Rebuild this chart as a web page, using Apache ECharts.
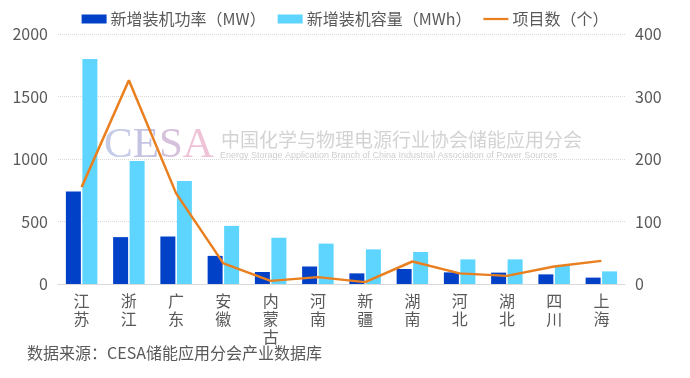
<!DOCTYPE html>
<html>
<head>
<meta charset="utf-8">
<script src="https://cdn.jsdelivr.net/npm/echarts@6/dist/echarts.min.js"></script>
<style>
html,body{margin:0;padding:0;background:#fff;}
#c{width:690px;height:378px;}
</style>
</head>
<body>
<div id="c"></div>
<script>
var categories = ['江苏','浙江','广东','安徽','内蒙古','河南','新疆','湖南','河北','湖北','四川','上海'];
var powerMW = [740, 375, 380, 225, 96, 140, 85, 120, 93, 91, 77, 51];
var capacityMWh = [1800, 985, 825, 465, 370, 323, 277, 256, 197, 197, 150, 101];
var projectCount = [155, 326, 145, 33, 5, 11, 3, 36, 17, 13, 28, 37];
var leftTicks = [0, 500, 1000, 1500, 2000];
var rightTicks = [0, 100, 200, 300, 400];
var seriesNames = ['新增装机功率（MW）', '新增装机容量（MWh）', '项目数（个）'];

var FONT = '"Noto Sans CJK SC", "Noto Sans", sans-serif';
var TXT = '#595959';
var chart = echarts.init(document.getElementById('c'), null, {renderer: 'canvas'});
chart.setOption({
  animation: false,
  textStyle: {fontFamily: FONT},
  legend: {
    top: 6,
    left: 'center',
    itemWidth: 25,
    itemHeight: 9,
    itemGap: 12,
    symbolKeepAspect: true,
    textStyle: {fontFamily: FONT, fontSize: 16, color: TXT, padding: [2, 0, 0, -1]},
    data: [
      {name: seriesNames[0], icon: 'rect'},
      {name: seriesNames[1], icon: 'rect'},
      {name: seriesNames[2], icon: 'path://M0,0H100V9H0Z'}
    ]
  },
  grid: {left: 58, right: 65, top: 34, bottom: 94},
  xAxis: {
    type: 'category',
    data: categories,
    axisTick: {show: false},
    axisLine: {lineStyle: {color: '#D9D9D9', width: 1}},
    axisLabel: {
      color: TXT, fontSize: 16, fontFamily: FONT, lineHeight: 18, margin: 8,
      formatter: function (v) { return v.split('').join('\n'); }
    }
  },
  yAxis: [
    {
      type: 'value', min: leftTicks[0], max: leftTicks[leftTicks.length - 1], interval: 500,
      axisLabel: {color: TXT, fontSize: 16, fontFamily: FONT, margin: 10, formatter: function (v) { return String(v); }},
      axisLine: {show: false}, axisTick: {show: false},
      splitLine: {lineStyle: {color: '#D9D9D9', type: 'dotted', width: 1}}
    },
    {
      type: 'value', min: rightTicks[0], max: rightTicks[rightTicks.length - 1], interval: 100,
      axisLabel: {color: TXT, fontSize: 16, fontFamily: FONT, margin: 10, formatter: function (v) { return String(v); }},
      axisLine: {show: false}, axisTick: {show: false},
      splitLine: {show: false}
    }
  ],
  graphic: [
    {
      type: 'text', left: 104, top: 124, z: 0, silent: true,
      style: {
        text: '{c|C}{e|E}{s|S}{a|A}',
        rich: {
          c: {fontFamily: '"Liberation Serif", "DejaVu Serif", serif', fontSize: 43, fill: '#C6CCE8'},
          e: {fontFamily: '"Liberation Serif", "DejaVu Serif", serif', fontSize: 43, fill: '#C4C4E2'},
          s: {fontFamily: '"Liberation Serif", "DejaVu Serif", serif', fontSize: 43, fill: '#D6C1DD'},
          a: {fontFamily: '"Liberation Serif", "DejaVu Serif", serif', fontSize: 43, fill: '#EFC3D7'}
        }
      }
    },
    {
      type: 'text', left: 221, top: 130, z: 0, silent: true,
      style: {text: '中国化学与物理电源行业协会储能应用分会', fontFamily: FONT, fontSize: 19, fill: '#D3D3D3'}
    },
    {
      type: 'text', left: 220, top: 151, z: 0, silent: true,
      style: {text: 'Energy Storage Application Branch of China Industrial Association of Power Sources', fontFamily: '"Liberation Sans", Arial, sans-serif', fontSize: 9, fill: '#CFCFCF'}
    },
    {
      type: 'text', left: 27, top: 345,
      style: {text: '数据来源：CESA储能应用分会产业数据库', fontFamily: FONT, fontSize: 16, fill: TXT}
    }
  ],
  series: [
    {
      name: seriesNames[0], type: 'bar', yAxisIndex: 0, data: powerMW,
      barWidth: 15, barGap: '10%',
      itemStyle: {color: '#0041C8'}
    },
    {
      name: seriesNames[1], type: 'bar', yAxisIndex: 0, data: capacityMWh,
      barWidth: 15, barGap: '10%',
      itemStyle: {color: '#5DD5FF'}
    },
    {
      name: seriesNames[2], type: 'line', yAxisIndex: 1, data: projectCount,
      symbol: 'none', smooth: false,
      lineStyle: {color: '#E97F1E', width: 2.5},
      itemStyle: {color: '#E97F1E'}
    }
  ]
});
</script>
</body>
</html>
